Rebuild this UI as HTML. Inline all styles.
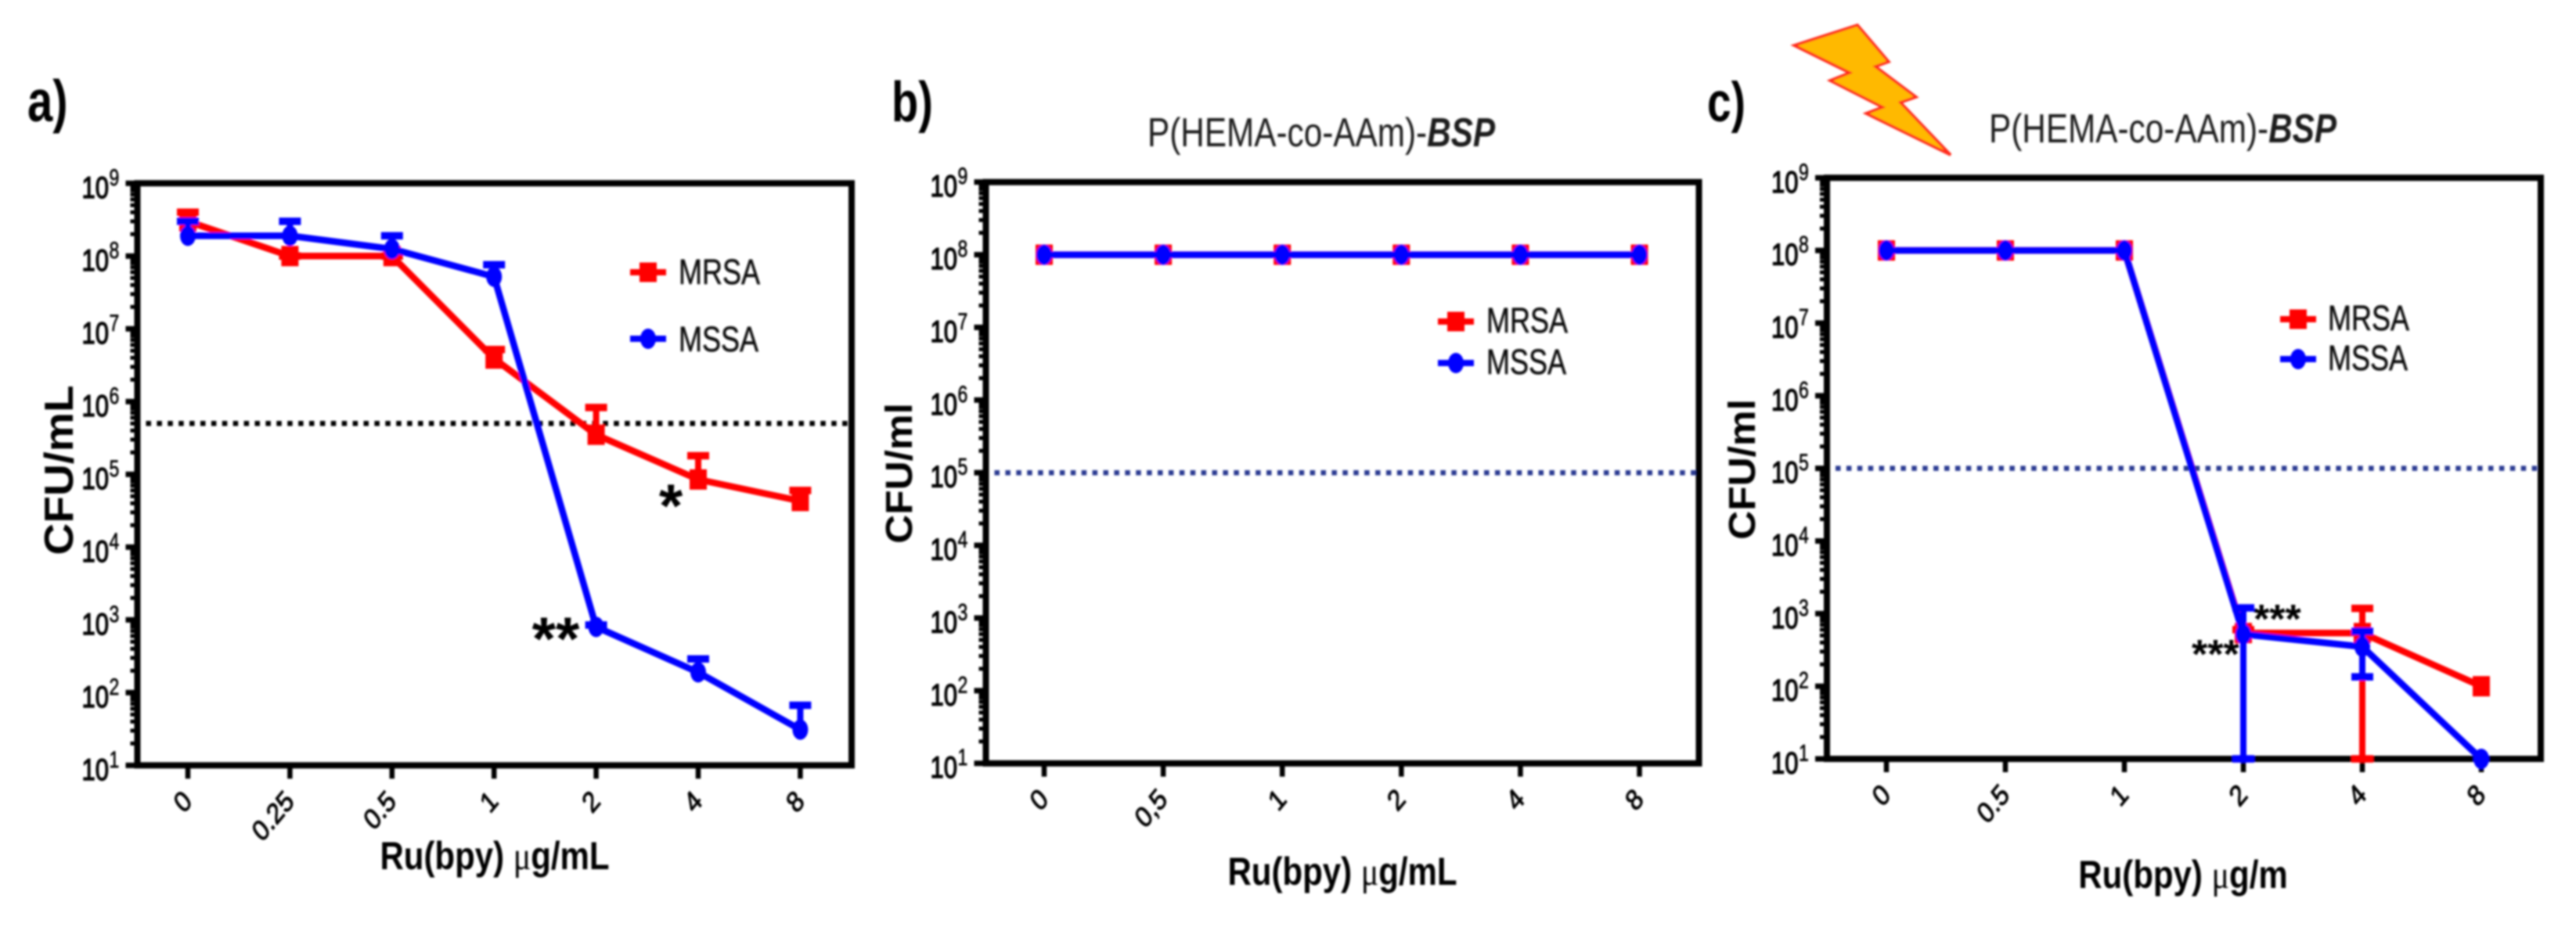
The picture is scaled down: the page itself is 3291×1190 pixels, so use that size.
<!DOCTYPE html>
<html lang="en">
<head>
<meta charset="utf-8">
<title>CFU versus Ru(bpy) concentration for MRSA and MSSA</title>
<style>
html,body{margin:0;padding:0;background:#fff;}
svg{display:block;}
text{font-family:"Liberation Sans",Arial,sans-serif;fill:#000;}
.bold{font-weight:700;}
.title{fill:#1c1c1c;font-size:42.3px;}
.legend{font-size:36px;fill:#111;stroke:#111;stroke-width:0.4;}
.star{font-size:78px;font-weight:700;text-anchor:middle;}
.star-s{font-size:52px;font-weight:700;}
</style>
</head>
<body>
<svg id="fig" xmlns="http://www.w3.org/2000/svg" width="3291" height="1190" viewBox="0 0 3291 1190">
<defs><filter id="soft" x="0" y="0" width="3291" height="1190" filterUnits="userSpaceOnUse" primitiveUnits="userSpaceOnUse"><feGaussianBlur stdDeviation="1.2"/></filter></defs>
<rect x="0" y="0" width="3291" height="1190" fill="#fff"/>
<g id="root" filter="url(#soft)">

<g id="panel-a"></g>
<g id="panel-b"></g>
<g id="panel-c"></g>

<text class="bold" font-size="58" transform="translate(35,155) scale(1,1.3)">a)</text>
<text class="bold" font-size="56" transform="translate(1139,155) scale(1,1.3)">b)</text>
<text class="bold" font-size="55" transform="translate(2181,155) scale(1,1.3)">c)</text>

<text class="title" transform="translate(1466,187) scale(1,1.22)">P(HEMA-co-AAm)-<tspan font-weight="700" font-style="italic">BSP</tspan></text>
<text class="title" transform="translate(2541,182) scale(1,1.22)">P(HEMA-co-AAm)-<tspan font-weight="700" font-style="italic">BSP</tspan></text>

<polygon points="2292,58 2373,32 2413,79 2396,85 2448,124 2428,131 2492,198 2384,145 2405,137 2338,103 2363,93" fill="#ffb900" stroke="#ff2a1a" stroke-width="3.5" stroke-linejoin="miter"/>

<text class="bold" font-size="52" text-anchor="middle" transform="translate(93,601) rotate(-90) scale(1.09,1)">CFU/mL</text>
<text class="bold" font-size="48" text-anchor="middle" transform="translate(1165,605) rotate(-90) scale(1.07,1)">CFU/ml</text>
<text class="bold" font-size="48" text-anchor="middle" transform="translate(2242,600) rotate(-90) scale(1.07,1)">CFU/ml</text>

<text class="bold" font-size="42" text-anchor="middle" transform="translate(632,1111) scale(1,1.2)">Ru(bpy) <tspan font-family="Liberation Serif" font-weight="400">μ</tspan>g/mL</text>
<text class="bold" font-size="42" text-anchor="middle" transform="translate(1715,1131) scale(1,1.2)">Ru(bpy) <tspan font-family="Liberation Serif" font-weight="400">μ</tspan>g/mL</text>
<text class="bold" font-size="42" text-anchor="middle" transform="translate(2789,1135) scale(1,1.2)">Ru(bpy) <tspan font-family="Liberation Serif" font-weight="400">μ</tspan>g/m</text>

<text class="legend" font-size="37" transform="translate(867,363) scale(1,1.27)">MRSA</text>
<text class="legend" font-size="37" transform="translate(867,449) scale(1,1.27)">MSSA</text>
<text class="legend" transform="translate(1899,425) scale(1,1.27)">MRSA</text>
<text class="legend" transform="translate(1899,478) scale(1,1.27)">MSSA</text>
<text class="legend" transform="translate(2974,422) scale(1,1.27)">MRSA</text>
<text class="legend" transform="translate(2974,473) scale(1,1.27)">MSSA</text>

<text class="star" x="857" y="673">*</text>
<text class="star" x="710" y="843">**</text>
<text class="star-s" x="2879" y="809">***</text>
<text class="star-s" x="2800" y="854">***</text>
</g>
</svg>
<script>
// ---- shared axis data ----
const yExponents = [1, 2, 3, 4, 5, 6, 7, 8, 9];
const minorMultipliers = [2, 3, 4, 5, 6, 7, 8, 9];

// ---- panel a values ----
const categoriesA = ['0', '0.25', '0.5', '1', '2', '4', '8'];
const mrsaA = [3e8, 1e8, 1e8, 3.9e6, 3.5e5, 8.5e4, 4.3e4];
const mrsaHighA = [4e8, 1e8, 1e8, 5.2e6, 8.3e5, 1.8e5, 6e4];
const mrsaLowA = [null, null, null, null, null, null, null];
const mssaA = [1.9e8, 1.9e8, 1.25e8, 5.2e7, 800, 190, 31];
const mssaHighA = [3e8, 3e8, 1.9e8, 7.6e7, 850, 290, 67];
const mssaLowA = [null, null, null, null, null, null, null];
const thresholdA = 5e5;

// ---- panel b values ----
const categoriesB = ['0', '0,5', '1', '2', '4', '8'];
const mrsaB = [1e8, 1e8, 1e8, 1e8, 1e8, 1e8];
const mssaB = [1e8, 1e8, 1e8, 1e8, 1e8, 1e8];
const noErrorB = [null, null, null, null, null, null];
const thresholdB = 1e5;

// ---- panel c values ----
const categoriesC = ['0', '0.5', '1', '2', '4', '8'];
const mrsaC = [1e8, 1e8, 1e8, 540, 540, 100];
const mrsaHighC = [null, null, null, 600, 1180, null];
const mrsaLowC = [null, null, null, null, 10, null];
const mssaC = [1e8, 1e8, 1e8, 520, 350, 10];
const mssaHighC = [null, null, null, 1200, 570, null];
const mssaLowC = [null, null, null, 10, 135, null];
const thresholdC = 1e5;

const NS = 'http://www.w3.org/2000/svg';
const RED = '#ff0000';
const BLUE = '#0000ff';

function mk(tag, attrs, parent) {
  const node = document.createElementNS(NS, tag);
  for (const k in attrs) node.setAttribute(k, attrs[k]);
  parent.appendChild(node);
  return node;
}

function drawSeries(group, key, color, values, high, low, X, Y, isSquare) {
  const pts = values.map((v, i) => X(i) + ',' + Y(v)).join(' ');
  const line = mk('polyline', {points: pts, fill: 'none', stroke: color, 'stroke-width': 8.5, 'stroke-linejoin': 'round'}, group);
  
  
  values.forEach((v, i) => {
    const ends = [high[i], low[i]];
    ends.forEach((e, j) => {
      if (e === null) return;
      const stem = mk('line', {x1: X(i), x2: X(i), y1: Y(v), y2: Y(e), stroke: color, 'stroke-width': 8}, group);
      
      
      const cap = mk('line', {x1: X(i) - 14, x2: X(i) + 14, y1: Y(e), y2: Y(e), stroke: color, 'stroke-width': 9.5}, group);
      
      
    });
    let mark;
    if (isSquare) {
      mark = mk('rect', {x: X(i) - 11, y: Y(v) - 13, width: 22, height: 26, fill: color}, group);
    } else {
      mark = mk('ellipse', {cx: X(i), cy: Y(v), rx: 10, ry: 13, fill: color}, group);
    }
    
    
  });
}

function drawLegendMark(group, key, color, cx, cy, isSquare) {
  const ln = mk('line', {x1: cx - 23, x2: cx + 23, y1: cy, y2: cy, stroke: color, 'stroke-width': 8}, group);
  
  
  let mk2;
  if (isSquare) {
    mk2 = mk('rect', {x: cx - 11, y: cy - 12.5, width: 22, height: 25, fill: color}, group);
  } else {
    mk2 = mk('ellipse', {cx: cx, cy: cy, rx: 10, ry: 13, fill: color}, group);
  }
  
  
}

function drawPanel(id, g, cats, mrsa, mrsaHigh, mrsaLow, mssa, mssaHigh, mssaLow, threshold, dotColor, legend) {
  const group = document.getElementById(id);
  const Y = v => g.bottom - (Math.log10(v) - yExponents[0]) * (g.bottom - g.top) / (yExponents[yExponents.length - 1] - yExponents[0]);
  const X = i => g.firstTick + i * g.step;

  // threshold line
  const th = mk('line', {x1: g.left + 11, x2: g.right - 4, y1: Y(threshold), y2: Y(threshold), stroke: dotColor, 'stroke-width': 6.5, 'stroke-dasharray': '6.5 7.4'}, group);
  
  

  // frame
  const frame = mk('path', {d: 'M' + g.left + ' ' + g.top + 'H' + g.right + 'V' + g.bottom + 'H' + g.left + 'Z', fill: 'none', stroke: '#000', 'stroke-width': 8}, group);
  
  

  // y ticks and labels
  yExponents.forEach((ex, n) => {
    const v = Math.pow(10, ex);
    const tk = mk('line', {x1: g.left - 15, x2: g.left, y1: Y(v), y2: Y(v), stroke: '#000', 'stroke-width': 7}, group);
    
    
    const base = mk('text', {'font-size': 31, stroke: '#000', 'stroke-width': 1.1, transform: 'translate(' + (g.left - 71) + ',' + (Y(v) + 18.5) + ') scale(1,1.25)'}, group);
    base.textContent = '10';
    
    
    const sup = mk('text', {'font-size': 23, stroke: '#000', 'stroke-width': 0.5, transform: 'translate(' + (g.left - 36) + ',' + (Y(v) + 2.5) + ') scale(1,1.3)'}, group);
    sup.textContent = String(ex);
    
    
    if (n < yExponents.length - 1) {
      minorMultipliers.forEach(m => {
        const my = Y(m * v);
        const mt = mk('line', {x1: g.left - 9, x2: g.left, y1: my, y2: my, stroke: '#000', 'stroke-width': 5}, group);
        
        
      });
    }
  });

  // x ticks and labels
  cats.forEach((c, i) => {
    const tk = mk('line', {x1: X(i), x2: X(i), y1: g.bottom, y2: g.bottom + 17, stroke: '#000', 'stroke-width': 6.5}, group);
    
    
    const lb = mk('text', {'font-size': 31, 'text-anchor': 'end', stroke: '#000', 'stroke-width': 0.9, transform: 'translate(' + (X(i) + 7) + ',' + (g.bottom + 48) + ') scale(1,1.2) rotate(-45)'}, group);
    lb.textContent = c;
    
    
  });

  drawSeries(group, id + '-mrsa', RED, mrsa, mrsaHigh, mrsaLow, X, Y, true);
  drawSeries(group, id + '-mssa', BLUE, mssa, mssaHigh, mssaLow, X, Y, false);

  drawLegendMark(group, id + '-mrsa', RED, legend.x, legend.y1, true);
  drawLegendMark(group, id + '-mssa', BLUE, legend.x, legend.y2, false);
}

drawPanel('panel-a', {left: 175.5, right: 1088, top: 234.3, bottom: 978.3, firstTick: 240, step: 130.4},
  categoriesA, mrsaA, mrsaHighA, mrsaLowA, mssaA, mssaHighA, mssaLowA, thresholdA, '#000', {x: 828, y1: 348, y2: 433});
drawPanel('panel-b', {left: 1259.5, right: 2170.5, top: 232.7, bottom: 975.7, firstTick: 1334, step: 152.1},
  categoriesB, mrsaB, noErrorB, noErrorB, mssaB, noErrorB, noErrorB, thresholdB, '#2b3a92', {x: 1860, y1: 411, y2: 464});
drawPanel('panel-c', {left: 2334, right: 3246, top: 227.3, bottom: 970, firstTick: 2410, step: 152},
  categoriesC, mrsaC, mrsaHighC, mrsaLowC, mssaC, mssaHighC, mssaLowC, thresholdC, '#2b3a92', {x: 2936, y1: 408, y2: 459});
</script>
</body>
</html>
